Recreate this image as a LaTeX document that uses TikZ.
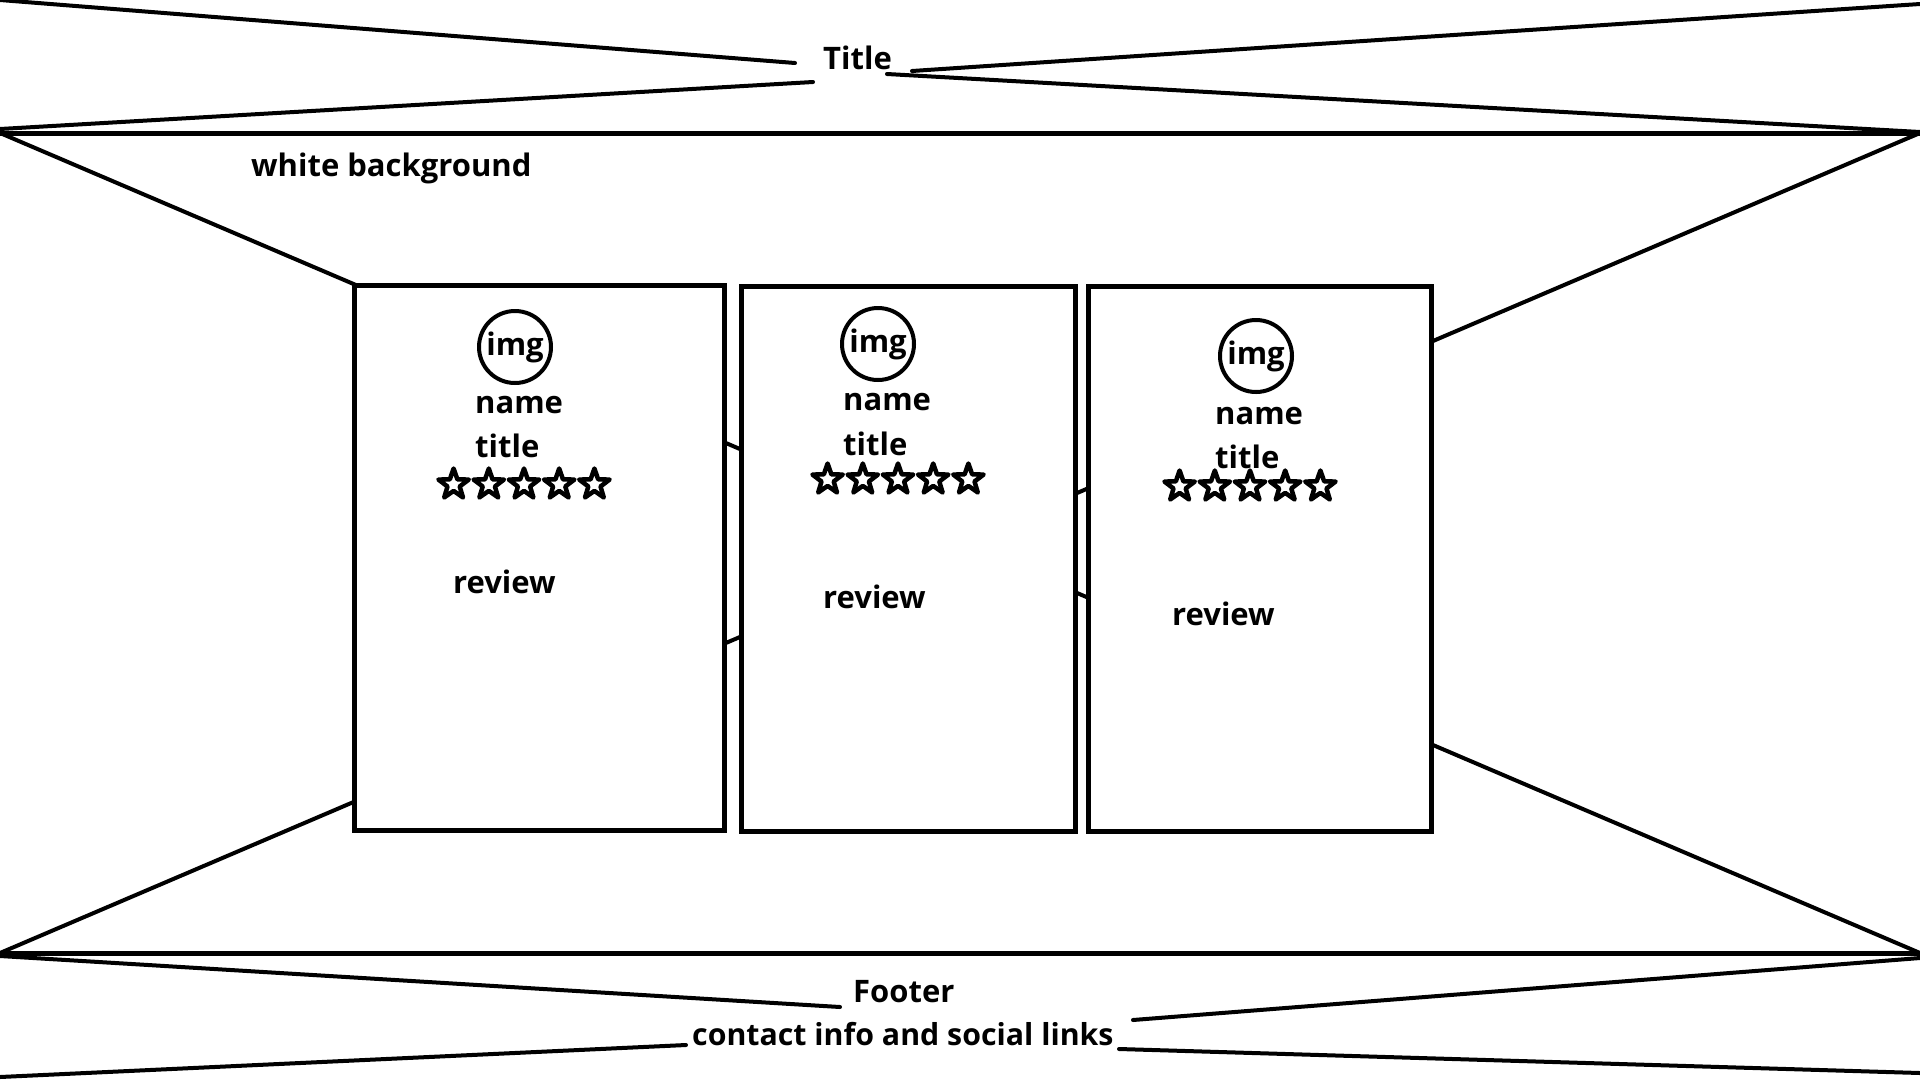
\documentclass[tikz,border=0pt]{standalone}
\usepackage{fontspec}
\setmainfont{Open Sans}
\usetikzlibrary{shapes.geometric}
\begin{document}
\begin{tikzpicture}[x=1pt,y=-1pt,
  lbl/.style={font=\fontsize{31}{37}\selectfont\bfseries, inner sep=0pt, anchor=base west},
  thinline/.style={line width=4pt, line cap=round},
  hline/.style={line width=5pt},
  card/.style={draw, fill=white, line width=5pt},
  ratestar/.style={star, star points=5, star point ratio=2.5, minimum size=32pt, inner sep=0pt, draw, line width=4.5pt, line join=round},
  imgcircle/.style={circle, draw, line width=4pt, minimum size=72pt, inner sep=0pt, font=\fontsize{31}{37}\selectfont\bfseries}]
\useasboundingbox (0,0) rectangle (1920,1080);
\fill[white] (0,0) rectangle (1920,1080);

% header
\coordinate (h1a) at (0,0);     \coordinate (h1b) at (795,63);
\coordinate (h2a) at (912,71);  \coordinate (h2b) at (1920,4);
\coordinate (h3a) at (0,129);   \coordinate (h3b) at (813,82);
\coordinate (h4a) at (887,74);  \coordinate (h4b) at (1920,132);
\draw[thinline] (h1a) -- (h1b);
\draw[thinline] (h2a) -- (h2b);
\draw[thinline] (h3a) -- (h3b);
\draw[thinline] (h4a) -- (h4b);
\node[lbl] (title) at (823,69) {Title};

% body frame
\coordinate (tl) at (0,133);  \coordinate (tr) at (1920,133);
\coordinate (bl) at (0,953);  \coordinate (br) at (1920,953);
\draw[hline] (tl) -- (tr);
\draw[hline] (bl) -- (br);
\draw[thinline] (tl) -- (br);
\draw[thinline] (bl) -- (tr);
\node[lbl] (bg) at (251,176) {white background};

% footer
\coordinate (f1a) at (0,956);    \coordinate (f1b) at (840,1007);
\coordinate (f2a) at (1133,1020);\coordinate (f2b) at (1920,958);
\coordinate (f3a) at (0,1077);   \coordinate (f3b) at (686,1045);
\coordinate (f4a) at (1119,1049);\coordinate (f4b) at (1920,1073);
\draw[thinline] (f1a) -- (f1b);
\draw[thinline] (f2a) -- (f2b);
\draw[thinline] (f3a) -- (f3b);
\draw[thinline] (f4a) -- (f4b);
\node[lbl] (footer) at (853,1002) {Footer};
\node[lbl, font=\fontsize{30.3}{36}\selectfont\bfseries] (contact) at (692,1045) {contact info and social links};

% cards
\draw[card] (354,285) rectangle (724,830);
\draw[card] (741,286) rectangle (1075,831);
\draw[card] (1088,286) rectangle (1431,831);

% card 1
\node[imgcircle] (img1) at (515,347) {img};
\node[lbl] (name1) at (475,413) {name};
\node[lbl] (title1) at (475,457) {title};
\foreach \k in {0,...,4} \node[ratestar] (sa\k) at ({453.6+35.2*\k},484.5) {};
\node[lbl] (rev1) at (453,593) {review};

% card 2
\node[imgcircle] (img2) at (878,344) {img};
\node[lbl] (name2) at (843,410) {name};
\node[lbl] (title2) at (843,455) {title};
\foreach \k in {0,...,4} \node[ratestar] (sb\k) at ({827.6+35.2*\k},479.5) {};
\node[lbl] (rev2) at (823,608) {review};

% card 3
\node[imgcircle] (img3) at (1256,356) {img};
\node[lbl] (name3) at (1215,424) {name};
\node[lbl] (title3) at (1215,468) {title};
\foreach \k in {0,...,4} \node[ratestar] (sc\k) at ({1179.6+35.2*\k},486.5) {};
\node[lbl] (rev3) at (1172,625) {review};
\end{tikzpicture}
\end{document}
